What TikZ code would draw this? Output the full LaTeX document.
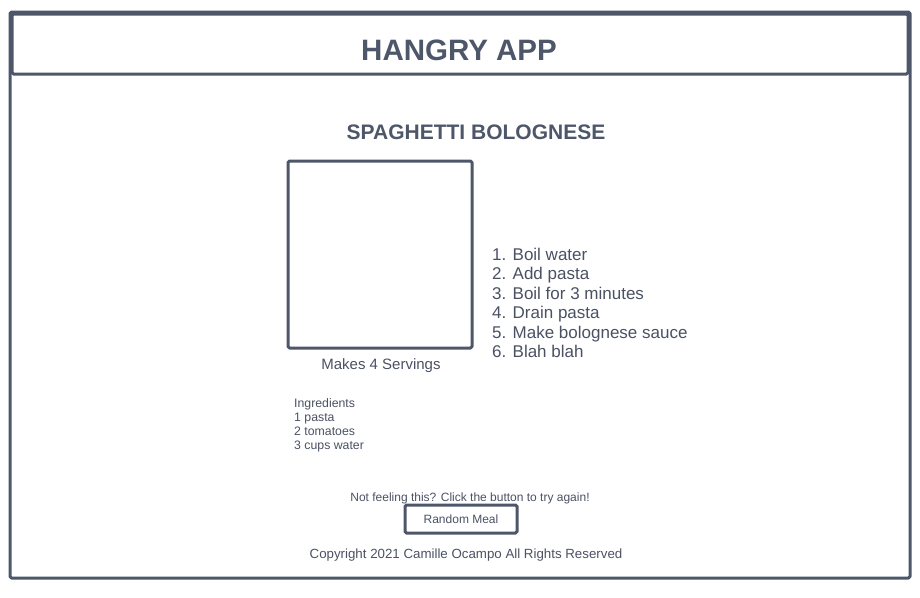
\documentclass[tikz,border=0pt]{standalone}
\usepackage{fontspec}
\setmainfont{Liberation Sans}
\usetikzlibrary{positioning}
\definecolor{slate}{HTML}{4E5669}
\definecolor{ink}{HTML}{4A5163}

\begin{document}
\begin{tikzpicture}[x=1pt, y=-1pt,
    frame/.style={draw=slate, line width=3pt, line join=round,
        rounded corners=1.5pt},
    headline/.style={text=slate, font=\fontsize{29.5}{34}\selectfont\bfseries,
        inner sep=0pt, anchor=base},
    subhead/.style={text=slate, font=\fontsize{21}{25}\selectfont\bfseries,
        inner sep=0pt, anchor=base},
    txt/.style={text=ink, inner sep=0pt, anchor=base},
    lst/.style={text=ink, inner sep=0pt, align=left, anchor=north west},
    button/.style={draw=slate, line width=3pt, rounded corners=1.5pt,
        minimum width=112pt, minimum height=28pt, inner sep=0pt,
        text=ink, font=\fontsize{12}{14}\selectfont},
    node distance = 0pt
    ]
    \useasboundingbox (0,0) rectangle (920,597);
    % page and header
    \draw[frame] (10,12) rectangle (910,578);
    \draw[frame] (12,14) rectangle (908,74);
    \node[headline] (title) at (459,60) {HANGRY APP};
    % recipe
    \node[subhead] (dish) at (476,139) {SPAGHETTI BOLOGNESE};
    \draw[frame] (288,161) rectangle (472,348);
    \node[txt, font=\fontsize{15}{18}\selectfont] (serves) at (381,369) {Makes 4 Servings};
    \node[lst, font=\fontsize{17}{19.4}\selectfont] (steps) at (492,248)
        {1. Boil water\\ 2. Add pasta\\ 3. Boil for 3 minutes\\
         4. Drain pasta\\ 5. Make bolognese sauce\\ 6. Blah blah};
    \node[lst, font=\fontsize{12.3}{14}\selectfont] (ingr) at (294,398)
        {Ingredients\\ 1 pasta\\ 2 tomatoes\\ 3 cups water};
    % footer
    \node[txt, font=\fontsize{12}{14}\selectfont] (retry) at (470,501)
        {Not feeling this? Click the button to try again!};
    \node[button] (random) at (461,519) {Random Meal};
    \node[txt, font=\fontsize{13.3}{16}\selectfont] (copy) at (466,558)
        {Copyright 2021 Camille Ocampo All Rights Reserved};
\end{tikzpicture}
\end{document}
